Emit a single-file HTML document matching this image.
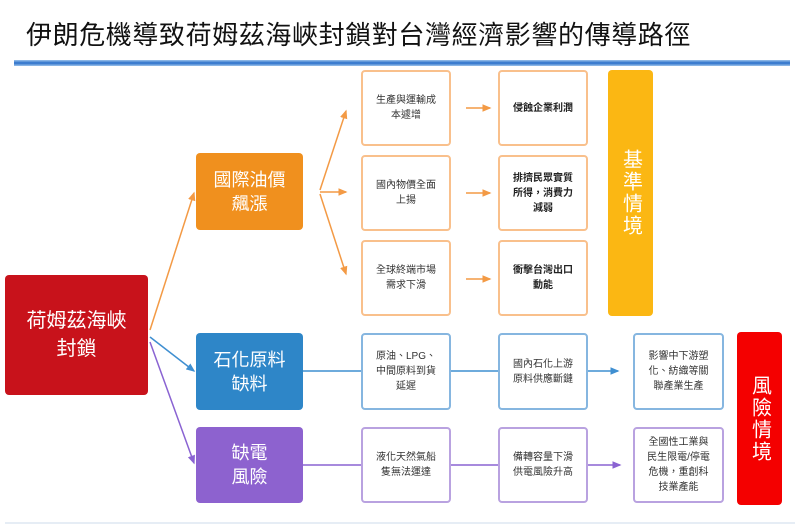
<!DOCTYPE html>
<html><head><meta charset="utf-8"><style>
body{margin:0;width:800px;height:526px;background:#fff;position:relative;overflow:hidden;font-family:"Liberation Sans","Noto Sans CJK TC",sans-serif}
.t{position:absolute;left:26px;top:15px;font-size:26px;color:#111;letter-spacing:0.6px}
.bar{position:absolute;left:14px;top:60px;width:776px;height:6px;background:linear-gradient(#9cc3ec,#2a6fc9 50%,#9cc3ec)}
.b{position:absolute;box-sizing:border-box;display:flex;align-items:center;justify-content:center;text-align:center;border-radius:4px}
.s{background:#fff;border:2px solid;font-size:10px;line-height:15px;color:#333;padding:0 11px}
.o{border-color:#f9c08c}.bl{border-color:#86b6e0}.p{border-color:#b9a2e0}
.k{font-weight:bold;color:#222}
.m{color:#fff;font-size:18px;line-height:24px}
.v{color:#fff;font-size:20px;line-height:26px;writing-mode:vertical-rl;letter-spacing:2px}
</style></head><body>
<div class="t">伊朗危機導致荷姆茲海峽封鎖對台灣經濟影響的傳導路徑</div>
<div class="bar"></div>
<svg style="position:absolute;left:0;top:0" width="800" height="526">
<defs>
<marker id="ao" markerWidth="6" markerHeight="6" refX="5" refY="3" orient="auto"><path d="M0,0.5L6,3L0,5.5z" fill="#f39a45"/></marker>
<marker id="ab" markerWidth="6" markerHeight="6" refX="5" refY="3" orient="auto"><path d="M0,0.5L6,3L0,5.5z" fill="#3f8fd1"/></marker>
<marker id="ap" markerWidth="6" markerHeight="6" refX="5" refY="3" orient="auto"><path d="M0,0.5L6,3L0,5.5z" fill="#8a63d2"/></marker>
</defs>
<g stroke-width="1.5" fill="none">
<line x1="150" y1="330" x2="194" y2="193" stroke="#f39a45" marker-end="url(#ao)"/>
<line x1="150" y1="337" x2="194" y2="371" stroke="#3f8fd1" marker-end="url(#ab)"/>
<line x1="150" y1="342" x2="194" y2="463" stroke="#8a63d2" marker-end="url(#ap)"/>
<line x1="320" y1="190" x2="346" y2="111" stroke="#f39a45" marker-end="url(#ao)"/>
<line x1="320" y1="192" x2="346" y2="192" stroke="#f39a45" marker-end="url(#ao)"/>
<line x1="320" y1="194" x2="346" y2="274" stroke="#f39a45" marker-end="url(#ao)"/>
<line x1="466" y1="108" x2="490" y2="108" stroke="#f39a45" marker-end="url(#ao)"/>
<line x1="466" y1="193" x2="490" y2="193" stroke="#f39a45" marker-end="url(#ao)"/>
<line x1="466" y1="279" x2="490" y2="279" stroke="#f39a45" marker-end="url(#ao)"/>
<line x1="303" y1="371" x2="618" y2="371" stroke="#3f8fd1" marker-end="url(#ab)"/>
<line x1="303" y1="465" x2="620" y2="465" stroke="#8a63d2" marker-end="url(#ap)"/>
<line x1="5" y1="523" x2="795" y2="523" stroke="#dde7f2"/>
</g></svg>
<div class="b m" style="left:5px;top:275px;width:143px;height:120px;background:#c8121b;font-size:20px;line-height:28px">荷姆茲海峽<br>封鎖</div>
<div class="b m" style="left:196px;top:153px;width:107px;height:77px;background:#f0901e">國際油價<br>飆漲</div>
<div class="b m" style="left:196px;top:333px;width:107px;height:77px;background:#2e86c8">石化原料<br>缺料</div>
<div class="b m" style="left:196px;top:427px;width:107px;height:76px;background:#8d62cf">缺電<br>風險</div>
<div class="b s o" style="left:361px;top:70px;width:90px;height:76px">生產與運輸成本遽增</div>
<div class="b s o" style="left:361px;top:155px;width:90px;height:76px">國內物價全面上揚</div>
<div class="b s o" style="left:361px;top:240px;width:90px;height:76px">全球終端市場需求下滑</div>
<div class="b s o k" style="left:498px;top:70px;width:90px;height:76px">侵蝕企業利潤</div>
<div class="b s o k" style="left:498px;top:155px;width:90px;height:76px">排擠民眾實質所得，消費力減弱</div>
<div class="b s o k" style="left:498px;top:240px;width:90px;height:76px">衝擊台灣出口動能</div>
<div class="b v" style="left:608px;top:70px;width:45px;height:246px;background:#fbb713">基準情境</div>
<div class="b s bl" style="left:361px;top:333px;width:90px;height:77px">原油、LPG、中間原料到貨延遲</div>
<div class="b s bl" style="left:498px;top:333px;width:90px;height:77px">國內石化上游原料供應斷鏈</div>
<div class="b s bl" style="left:633px;top:333px;width:91px;height:77px">影響中下游塑化、紡織等關聯產業生產</div>
<div class="b s p" style="left:361px;top:427px;width:90px;height:76px">液化天然氣船隻無法運達</div>
<div class="b s p" style="left:498px;top:427px;width:90px;height:76px">備轉容量下滑供電風險升高</div>
<div class="b s p" style="left:633px;top:427px;width:91px;height:76px">全國性工業與民生限電/停電危機，重創科技業產能</div>
<div class="b v" style="left:737px;top:332px;width:45px;height:173px;background:#f40000">風險情境</div>
</body></html>
